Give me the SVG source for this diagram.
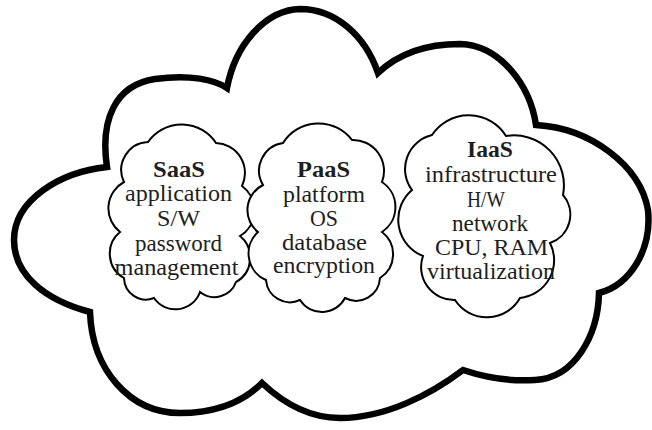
<svg xmlns="http://www.w3.org/2000/svg" width="652" height="430" viewBox="0 0 652 430">
<style>
.big{fill:#fff;stroke:#000;stroke-width:6.5;stroke-linejoin:miter}
.small{fill:#fff;stroke:#000;stroke-width:2}
text{font-family:"Liberation Serif","Times New Roman",serif;font-size:22.5px;fill:#1e1e1e;text-anchor:middle}
.t{font-weight:bold}
</style>
<rect width="652" height="430" fill="#fff"/>
<g id="cloud">
<path class="big" d="M227 88 C235 45 265 10 300 9 C335 9 365 35 378 73 C400 52 430 44 460 44 C500 45 530 85 536 125 C590 128 640 165 648 210 C652 250 630 285 599 293 C598 335 575 378 535 380 C505 382 478 375 463 370 C430 395 385 418 340 418 C305 418 280 400 262 383 C240 405 210 413 180 413 C130 413 92 370 90 312 C45 300 14 275 14 240 C14 200 60 172 107 167 C100 120 115 85 155 79 C190 74 215 80 227 88 Z"/>
</g>
<g id="saas">
<path class="small" d="M148 142 A41 41 0 0 1 216 143 A30 30 0 0 1 242 186 A30 30 0 0 1 240 236 A28 28 0 0 1 236 282 A23 23 0 0 1 200 292 A26 26 0 0 1 154 298 A22 22 0 0 1 124 278 A28 28 0 0 1 120 232 A30 30 0 0 1 124 182 A28 28 0 0 1 148 142 Z"/>
<text class="t" x="179" y="177" textLength="52" lengthAdjust="spacingAndGlyphs">SaaS</text>
<text x="178.5" y="201" textLength="107" lengthAdjust="spacingAndGlyphs">application</text>
<text x="178.5" y="226" textLength="43" lengthAdjust="spacingAndGlyphs">S/W</text>
<text x="178.5" y="251" textLength="87" lengthAdjust="spacingAndGlyphs">password</text>
<text x="176.5" y="275" textLength="124" lengthAdjust="spacingAndGlyphs">management</text>
</g>
<g id="paas">
<path class="small" d="M283 143 A42 42 0 0 1 352 140 A31 31 0 0 1 382 182 A30 30 0 0 1 382 232 A28 28 0 0 1 380 278 A24 24 0 0 1 345 298 A26 26 0 0 1 300 300 A24 24 0 0 1 266 280 A29 29 0 0 1 258 232 A28 28 0 0 1 263 185 A28 28 0 0 1 283 143 Z"/>
<text class="t" x="323.5" y="177" textLength="53" lengthAdjust="spacingAndGlyphs">PaaS</text>
<text x="324" y="201.5" textLength="82" lengthAdjust="spacingAndGlyphs">platform</text>
<text x="324" y="225.5" textLength="28" lengthAdjust="spacingAndGlyphs">OS</text>
<text x="324.5" y="249.5" textLength="85" lengthAdjust="spacingAndGlyphs">database</text>
<text x="324" y="273" textLength="102" lengthAdjust="spacingAndGlyphs">encryption</text>
</g>
<g id="iaas">
<path class="small" d="M432 135 A44 44 0 0 1 506 136 A50 50 0 0 1 563 195 A30 30 0 0 1 550 243 A38 38 0 0 1 520 298 A38 38 0 0 1 455 300 A33 33 0 0 1 423 256 A39 39 0 0 1 412 190 A35 35 0 0 1 432 135 Z"/>
<text class="t" x="490" y="157" textLength="46" lengthAdjust="spacingAndGlyphs">IaaS</text>
<text x="491" y="182" textLength="132" lengthAdjust="spacingAndGlyphs">infrastructure</text>
<text x="486" y="206.5" textLength="38" lengthAdjust="spacingAndGlyphs">H/W</text>
<text x="490" y="231" textLength="76" lengthAdjust="spacingAndGlyphs">network</text>
<text x="491.5" y="255" textLength="113" lengthAdjust="spacingAndGlyphs">CPU, RAM</text>
<text x="491" y="279" textLength="128" lengthAdjust="spacingAndGlyphs">virtualization</text>
</g>
<g id="connectors"></g>
</svg>
